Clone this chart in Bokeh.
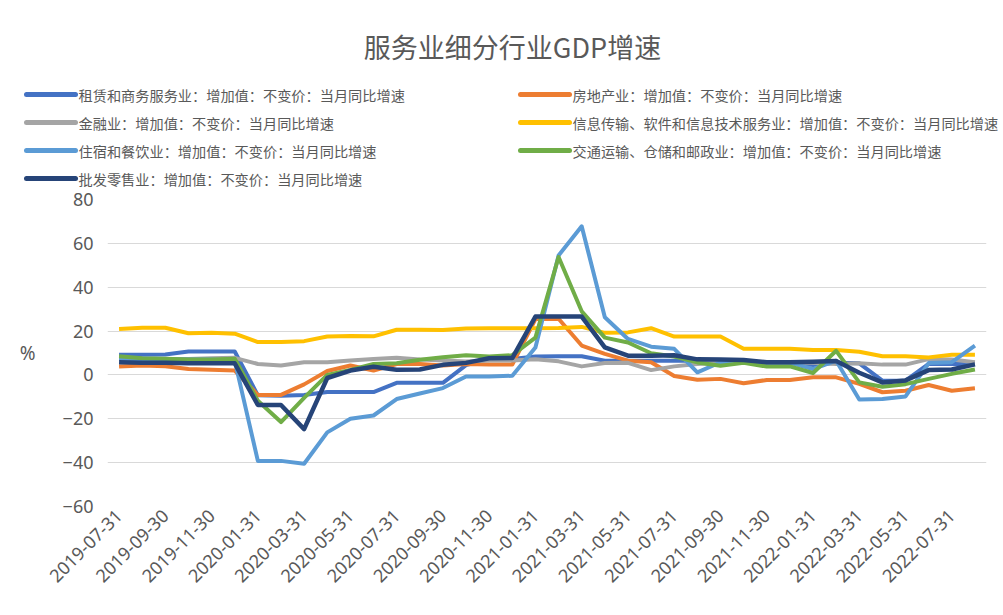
import math
from bokeh.plotting import figure
from bokeh.models import Range1d, FixedTicker
from bokeh.layouts import column
from bokeh.embed import file_html
from bokeh.resources import INLINE
from bokeh.core.properties import value

title_text = "服务业细分行业GDP增速"

dates = [
    "2019-07-31", "2019-08-31", "2019-09-30", "2019-10-31", "2019-11-30", "2019-12-31",
    "2020-01-31", "2020-02-29", "2020-03-31", "2020-04-30", "2020-05-31", "2020-06-30",
    "2020-07-31", "2020-08-31", "2020-09-30", "2020-10-31", "2020-11-30", "2020-12-31",
    "2021-01-31", "2021-02-28", "2021-03-31", "2021-04-30", "2021-05-31", "2021-06-30",
    "2021-07-31", "2021-08-31", "2021-09-30", "2021-10-31", "2021-11-30", "2021-12-31",
    "2022-01-31", "2022-02-28", "2022-03-31", "2022-04-30", "2022-05-31", "2022-06-30",
    "2022-07-31", "2022-08-31",
]

series_names = [
    "租赁和商务服务业：增加值：不变价：当月同比增速",
    "房地产业：增加值：不变价：当月同比增速",
    "金融业：增加值：不变价：当月同比增速",
    "信息传输、软件和信息技术服务业：增加值：不变价：当月同比增速",
    "住宿和餐饮业：增加值：不变价：当月同比增速",
    "交通运输、仓储和邮政业：增加值：不变价：当月同比增速",
    "批发零售业：增加值：不变价：当月同比增速",
]

leasing = [9.2, 9.2, 9.3, 10.7, 10.7, 10.7, -9.3, -9.5, -9.2, -7.8, -7.8, -7.8,
           -3.6, -3.6, -3.6, 4.5, 7.3, 7.3, 8.4, 8.5, 8.5, 6.5, 6.5, 6.5,
           6.5, 6.5, 6.5, 6.5, 5.5, 5.5, 4.5, 5.5, 5.3, -2.6, -2.6, 5.0, 5.0, 5.0]
real_estate = [3.8, 4.3, 4.0, 2.7, 2.4, 2.0, -9.1, -9.1, -4.3, 1.8, 4.3, 2.0,
               5.0, 5.0, 4.3, 5.0, 4.7, 4.7, 25.5, 25.6, 13.4, 9.6, 6.5, 5.8,
               -0.5, -2.2, -1.8, -3.8, -2.3, -2.3, -1.1, -1.1, -4.1, -7.9, -7.2, -4.6, -7.2, -6.1]
finance = [7.3, 7.3, 7.3, 7.3, 7.6, 7.8, 5.0, 4.3, 5.8, 5.8, 6.6, 7.3,
           7.8, 7.0, 6.6, 6.1, 6.6, 6.6, 7.2, 6.2, 3.9, 5.4, 5.5, 2.2,
           3.9, 5.0, 5.5, 5.5, 5.5, 5.5, 5.5, 5.0, 5.3, 4.7, 4.7, 7.2, 7.0, 5.8]
ict = [21.0, 21.5, 21.5, 19.0, 19.2, 18.8, 15.0, 15.0, 15.4, 17.5, 17.8, 17.6,
       20.6, 20.6, 20.5, 21.2, 21.3, 21.3, 21.3, 21.4, 21.9, 19.2, 19.4, 21.3,
       17.5, 17.5, 17.5, 11.9, 11.9, 11.9, 11.4, 11.4, 10.6, 8.5, 8.5, 8.0, 9.2, 9.2]
accommodation = [7.5, 7.0, 7.0, 7.0, 7.0, 6.5, -39.2, -39.2, -40.5, -26.2, -20.0, -18.5,
                 -11.0, -8.5, -6.0, -0.7, -0.7, -0.4, 12.5, 54.5, 67.8, 26.3, 16.4, 12.9,
                 11.9, 1.2, 5.8, 6.0, 5.5, 5.5, 2.7, 6.5, -11.2, -11.0, -9.8, 5.4, 5.8, 13.4]
transport = [8.5, 7.6, 7.4, 7.0, 7.0, 7.4, -11.8, -21.5, -10.5, 0.0, 2.3, 5.0,
             5.3, 6.9, 8.1, 9.0, 8.4, 9.0, 17.0, 53.8, 29.0, 17.0, 14.8, 9.9,
             8.4, 5.7, 4.2, 5.5, 3.8, 3.9, 0.9, 11.0, -3.4, -5.4, -4.2, -1.8, 0.5, 2.5]
wholesale = [5.8, 5.5, 5.5, 5.3, 5.3, 5.3, -13.7, -13.7, -24.7, -1.4, 2.0, 3.7,
             2.4, 2.5, 4.6, 5.5, 7.6, 7.7, 26.6, 26.6, 26.6, 12.6, 8.8, 8.8,
             9.0, 7.1, 7.0, 6.8, 5.8, 5.8, 6.0, 6.3, 1.0, -3.4, -2.5, 2.2, 2.5, 4.8]

series_values = [leasing, real_estate, finance, ict, accommodation, transport, wholesale]
colors = ["#4472C4", "#ED7D31", "#A5A5A5", "#FFC000", "#5B9BD5", "#70AD47", "#264478"]
y_ticks = [-60, -40, -20, 0, 20, 40, 60, 80]

TEXT = "#595959"
CJK = value("Noto Sans CJK SC")

W = 1003
TOP_H = 188
MAIN_H = 426

# ---------- header: title + legend ----------
top = figure(width=W, height=TOP_H, x_range=Range1d(0, W), y_range=Range1d(TOP_H, 0),
             output_backend="svg", toolbar_location=None, min_border=0,
             x_axis_location=None, y_axis_location=None)
top.grid.visible = False
top.outline_line_color = None
top.background_fill_color = "white"
top.border_fill_color = "white"

top.text(x=[512], y=[46], text=[title_text], text_align="center", text_baseline="middle",
         text_font=CJK, text_font_size="27px", text_color=TEXT)

col_x = [26, 520]
row_y0 = 94
row_gap = 28
sx0, sx1, tx, sy = [], [], [], []
for k in range(len(series_names)):
    c = k % 2
    r = k // 2
    sx0.append(col_x[c])
    sx1.append(col_x[c] + 49)
    tx.append(col_x[c] + 52)
    sy.append(row_y0 + r * row_gap)
top.segment(x0=sx0, y0=sy, x1=sx1, y1=sy, line_color=colors, line_width=5, line_cap="round")
top.text(x=tx, y=sy, text=series_names, text_align="left", text_baseline="middle",
         text_font=CJK, text_font_size="14.2px", text_color=TEXT)

# ---------- main chart ----------
xs = list(range(len(dates)))
p = figure(width=W, height=MAIN_H, x_range=Range1d(-0.5, len(dates) - 0.5),
           y_range=Range1d(-60, 80), output_backend="svg", toolbar_location=None,
           min_border_left=107, min_border_right=17, min_border_top=11, min_border_bottom=108)
p.outline_line_color = None
p.background_fill_color = "white"
p.border_fill_color = "white"

for f in (top, p):
    try:
        f.frame_align = False
    except AttributeError:
        pass

p.xgrid.visible = False
p.ygrid.ticker = FixedTicker(ticks=y_ticks)
p.ygrid.grid_line_color = "#D9D9D9"
p.ygrid.grid_line_width = 1

p.yaxis.ticker = FixedTicker(ticks=y_ticks)
p.yaxis.axis_line_color = None
p.yaxis.major_tick_line_color = None
p.yaxis.minor_tick_line_color = None
p.yaxis.major_tick_out = 0
p.yaxis.major_label_standoff = 14
p.yaxis.major_label_text_font = "Noto Sans"
p.yaxis.major_label_text_font_size = "18px"
p.yaxis.major_label_text_color = TEXT
p.yaxis.axis_label = "%"
p.yaxis.axis_label_orientation = "horizontal"
p.yaxis.axis_label_standoff = 24
p.yaxis.axis_label_text_font = "Noto Sans"
p.yaxis.axis_label_text_font_size = "19px"
p.yaxis.axis_label_text_font_style = "normal"
p.yaxis.axis_label_text_color = TEXT

label_idx = xs[::2]
p.xaxis.ticker = FixedTicker(ticks=label_idx)
p.xaxis.major_label_overrides = {i: dates[i] for i in label_idx}
p.xaxis.major_label_orientation = math.pi / 4
p.xaxis.axis_line_color = None
p.xaxis.major_tick_line_color = None
p.xaxis.minor_tick_line_color = None
p.xaxis.major_tick_out = 0
p.xaxis.major_label_standoff = 6
p.xaxis.major_label_text_font = "Noto Sans"
p.xaxis.major_label_text_font_size = "18px"
p.xaxis.major_label_text_color = TEXT

for vals, col in zip(series_values, colors):
    lw = 4.5 if col == "#264478" else 4
    p.line(xs, vals, line_color=col, line_width=lw, line_join="round")

layout = column(top, p, spacing=0)

open("out.html", "w").write(file_html(layout, INLINE))
